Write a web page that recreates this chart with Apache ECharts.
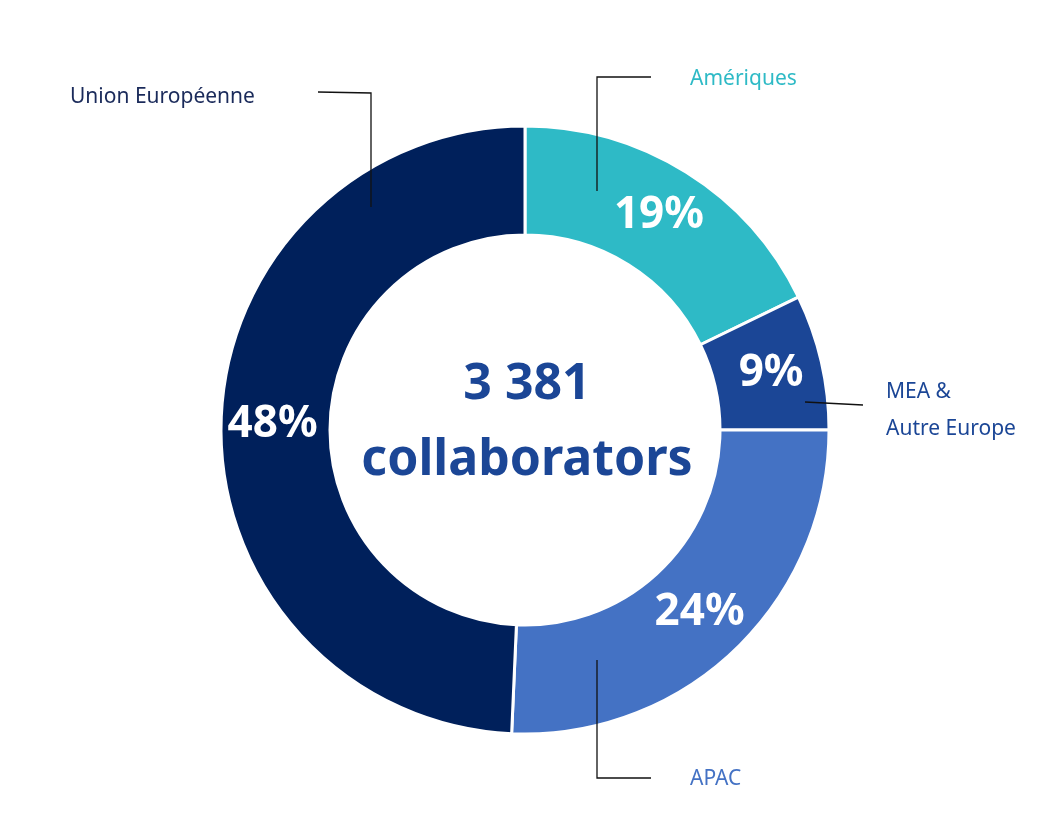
<!DOCTYPE html>
<html>
<head>
<meta charset="UTF-8">
<script src="https://cdn.jsdelivr.net/npm/echarts@6/dist/echarts.min.js"></script>
<style>html,body{margin:0;background:#fff}</style>
</head>
<body>
<div id="container" style="width:1057px;height:828px"></div>
<script>
var regions = ['Amériques', 'MEA &\nAutre Europe', 'APAC', 'Union Européenne'];
var shares = [17.8, 7.2, 25.7, 49.3];      // slice sizes
var shareLabels = ['19%', '9%', '24%', '48%']; // printed percentages
var colors = ['#2EBAC6', '#1B4696', '#4472C4', '#00205B'];
var totalText = '3 381';

var font = '"Noto Sans", sans-serif';
var chart = echarts.init(document.getElementById('container'));

function lineEl(pts) {
    return { type: 'polyline', shape: { points: pts }, style: { stroke: '#111', lineWidth: 1.3, fill: null }, z: 10 };
}
function textEl(x, y, t, c) {
    return { type: 'text', x: x, y: y, style: { text: t, fill: c, font: '21px ' + font, lineHeight: 37 }, z: 10 };
}

chart.setOption({
    animation: false,
    series: [{
        type: 'pie',
        center: [525, 430],
        radius: [195, 304],
        startAngle: 90,
        clockwise: true,
        itemStyle: { borderColor: '#fff', borderWidth: 3 },
        label: {
            position: 'inside',
            color: '#fff',
            fontFamily: font,
            fontWeight: 'bold',
            fontSize: 44,
            formatter: function (p) { return shareLabels[p.dataIndex]; }
        },
        data: regions.map(function (r, i) {
            return { name: r, value: shares[i], itemStyle: { color: colors[i] } };
        })
    }],
    graphic: [
        { type: 'text', x: 527, y: 347, style: {
            text: totalText + '\ncollaborators', fill: '#1B4696', font: 'bold 50px ' + font,
            align: 'center', lineHeight: 76 }, z: 10 },
        lineEl([[318, 92], [371, 93], [371, 207]]),
        textEl(70, 79, regions[3], '#1a2a5a'),
        lineEl([[651, 77], [597, 77], [597, 191]]),
        textEl(690, 61, regions[0], '#2EBAC6'),
        lineEl([[805, 402], [863, 405]]),
        textEl(886, 374, regions[1], '#1B4696'),
        lineEl([[597, 660], [597, 778], [651, 778]]),
        textEl(690, 761, regions[2], '#4472C4')
    ]
});
</script>
</body>
</html>
